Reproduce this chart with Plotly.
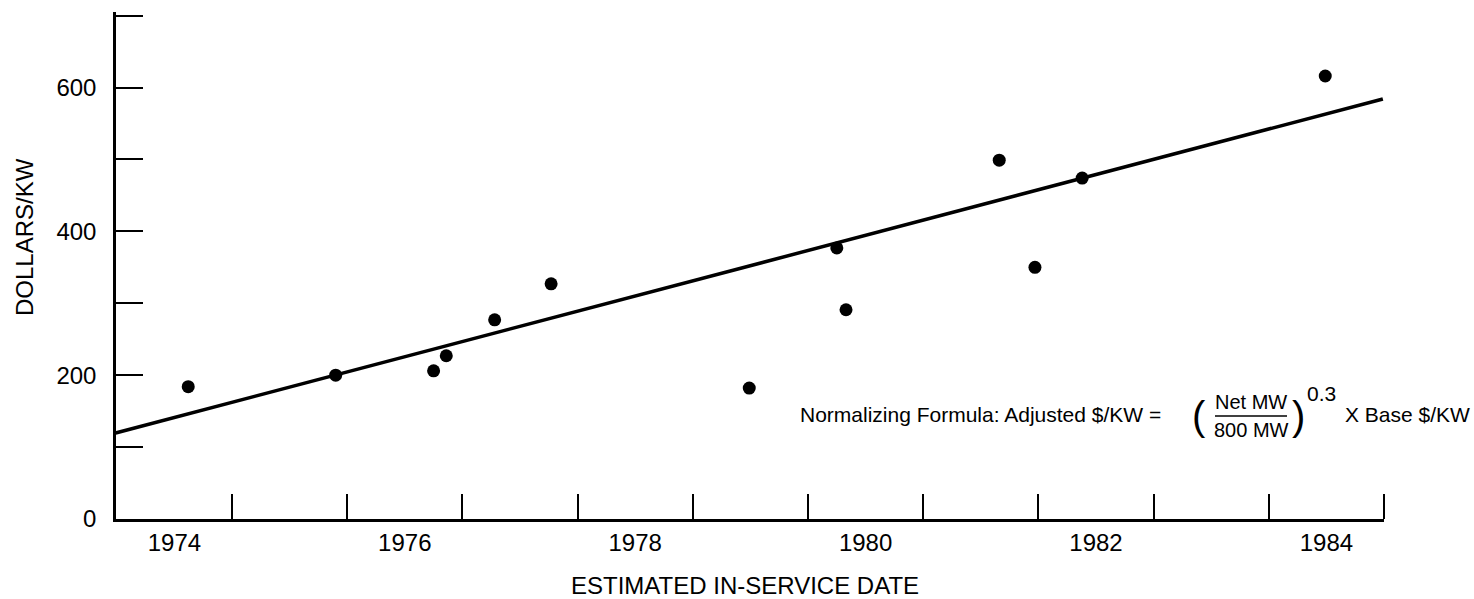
import plotly.graph_objects as go

# ---- data ----
years = [1974.12, 1975.40, 1976.25, 1976.36, 1976.78, 1977.27, 1978.99,
         1979.75, 1979.83, 1981.16, 1981.47, 1981.88, 1983.99]
dollars_per_kw = [184, 200, 206, 227, 277, 327, 182, 377, 291, 499, 350, 474, 616]
trend_years = [1973.49, 1984.49]
trend_values = [119.6, 584.1]
x_label_years = [1974, 1976, 1978, 1980, 1982, 1984]
x_tick_years = [1974.5, 1975.5, 1976.5, 1977.5, 1978.5, 1979.5,
                1980.5, 1981.5, 1982.5, 1983.5, 1984.5]
y_tick_vals = [0, 100, 200, 300, 400, 500, 600, 700]
y_tick_text = ["0", "", "200", "", "400", "", "600", ""]

W, H = 1474, 599
ML, MR, MT, MB = 116, 90, 12, 80
PW, PH = W - ML - MR, H - MT - MB


def px(x):
    return (x - ML) / PW


def py(y):
    return (H - MB - y) / PH


FONT = "Liberation Sans, Arial, Helvetica, sans-serif"

fig = go.Figure()
fig.add_trace(go.Scatter(x=trend_years, y=trend_values, mode="lines",
                         line=dict(color="black", width=3.5),
                         showlegend=False, hoverinfo="skip"))
fig.add_trace(go.Scatter(x=years, y=dollars_per_kw, mode="markers",
                         marker=dict(color="black", size=13),
                         showlegend=False))

fig.update_layout(
    width=W, height=H,
    margin=dict(l=ML, r=MR, t=MT, b=MB, pad=0),
    paper_bgcolor="white", plot_bgcolor="white",
    font=dict(family=FONT, color="black", size=24),
    xaxis=dict(range=[1973.493, 1984.5], showgrid=False, zeroline=False,
               showline=True, linecolor="black", linewidth=2.5,
               tickmode="array", tickvals=x_label_years,
               ticks="", ticklabelstandoff=0,
               tickfont=dict(size=24, family=FONT, color="black"),
               minor=dict(tickmode="array", tickvals=x_tick_years,
                          ticks="inside", ticklen=25, tickwidth=2,
                          tickcolor="black", showgrid=False)),
    yaxis=dict(range=[0, 705], showgrid=False, zeroline=False,
               showline=True, linecolor="black", linewidth=2.5,
               tickmode="array", tickvals=y_tick_vals, ticktext=y_tick_text,
               ticks="inside", ticklen=27, tickwidth=2, tickcolor="black",
               ticklabelstandoff=12,
               tickfont=dict(size=24, family=FONT, color="black")),
)

ann = [
    dict(text="ESTIMATED IN-SERVICE DATE", x=px(745), y=py(585),
         xanchor="center", yanchor="middle", font=dict(size=24)),
    dict(text="DOLLARS/KW", x=px(24), y=py(237), textangle=-90,
         xanchor="center", yanchor="middle", font=dict(size=24)),
    dict(text="Normalizing Formula: Adjusted $/KW =", x=px(1163), y=py(414),
         xanchor="right", yanchor="middle", font=dict(size=21)),
    dict(text="(", x=px(1199), y=py(416), xanchor="center", yanchor="middle",
         font=dict(size=40)),
    dict(text="Net MW", x=px(1251), y=py(402), xanchor="center",
         yanchor="middle", font=dict(size=20)),
    dict(text="800 MW", x=px(1251), y=py(430), xanchor="center",
         yanchor="middle", font=dict(size=20)),
    dict(text=")", x=px(1298), y=py(416), xanchor="center", yanchor="middle",
         font=dict(size=40)),
    dict(text="0.3", x=px(1305), y=py(393), xanchor="left", yanchor="middle",
         font=dict(size=21)),
    dict(text="X Base $/KW", x=px(1343), y=py(414), xanchor="left",
         yanchor="middle", font=dict(size=21)),
]
for a in ann:
    a.update(xref="paper", yref="paper", showarrow=False)
fig.update_layout(annotations=ann)

fig.add_shape(type="line", xref="paper", yref="paper",
              x0=px(1215), x1=px(1287), y0=py(416), y1=py(416),
              line=dict(color="black", width=1.5))

fig.write_html("out.html")
